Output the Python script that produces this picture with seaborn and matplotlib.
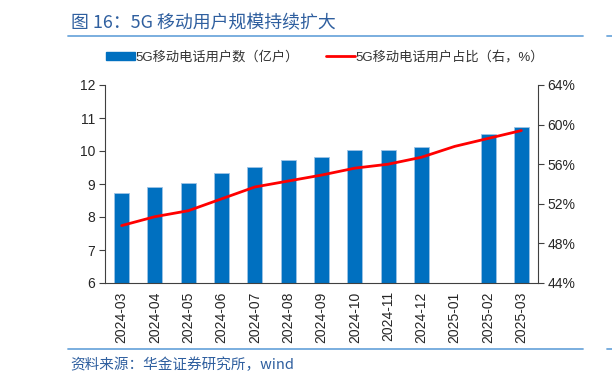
import numpy as np
import pandas as pd
import matplotlib
matplotlib.use("Agg")
import matplotlib.pyplot as plt
import seaborn as sns
from matplotlib.patches import Patch
from matplotlib.lines import Line2D

# Data
months = ["2024-03", "2024-04", "2024-05", "2024-06", "2024-07", "2024-08", "2024-09",
          "2024-10", "2024-11", "2024-12", "2025-01", "2025-02", "2025-03"]
users = [8.72, 8.92, 9.02, 9.33, 9.53, 9.73, 9.83, 10.02, 10.02, 10.13, np.nan, 10.52, 10.72]
share = [49.8, 50.7, 51.3, 52.5, 53.7, 54.3, 54.9, 55.6, 56.0, 56.7, 57.8, 58.6, 59.4]

bar_label = "5G移动电话用户数（亿户）"
line_label = "5G移动电话用户占比（右，%）"
title = "图 16：5G 移动用户规模持续扩大"
source = "资料来源：华金证券研究所，wind"

sns.set_style("white")
plt.rcParams["font.family"] = ["Liberation Sans", "Noto Sans CJK SC", "DejaVu Sans"]

df = pd.DataFrame({"month": months, "users": users, "share": share})

fig = plt.figure(figsize=(6.12, 3.85), dpi=100)
ax = fig.add_axes([105 / 612, 1 - 283 / 385, (538 - 105) / 612, (283 - 85) / 385])

sns.barplot(data=df, x="month", y="users", order=months, color="#0070C0",
            width=0.45, saturation=1, edgecolor="#9DC3E6", linewidth=0.6, ax=ax)
ax.set_ylim(6, 12)
ax.set_xlim(-0.5, len(months) - 0.5)
ax.set_xlabel("")
ax.set_ylabel("")
ax.set_yticks(range(6, 13))
ax.tick_params(axis="y", labelsize=10, length=4, width=0.8, direction="out", color="#404040", pad=3)
ax.set_xticks(np.arange(len(months)))
ax.set_xticklabels(months, rotation=90, fontsize=10)
ax.tick_params(axis="x", length=0, pad=6)
ax.set_xticks(np.arange(len(months) + 1) - 0.5, minor=True)
ax.tick_params(axis="x", which="minor", length=4, width=0.8, direction="inout", color="#404040")
for s in ["top", "right"]:
    ax.spines[s].set_visible(False)
for s in ["left", "bottom"]:
    ax.spines[s].set_color("#404040")
    ax.spines[s].set_linewidth(0.8)

ax2 = ax.twinx()
sns.lineplot(x=np.arange(len(months)), y=share, color="#FF0000", linewidth=2, ax=ax2)
ax2.set_ylim(44, 64)
ax2.set_yticks(range(44, 65, 4))
ax2.set_yticklabels([f"{v}%" for v in range(44, 65, 4)])
ax2.tick_params(axis="y", labelsize=10, length=4, width=0.8, direction="out", color="#404040", pad=3)
for s in ["top", "left", "bottom"]:
    ax2.spines[s].set_visible(False)
ax2.spines["right"].set_color("#404040")
ax2.spines["right"].set_linewidth(0.8)

handles = [Patch(facecolor="#0070C0", edgecolor="#0070C0"),
           Line2D([0], [0], color="#FF0000", linewidth=2)]
leg = fig.legend(handles, [bar_label, line_label], loc="center", bbox_to_anchor=(325 / 612, 1 - 57 / 385),
                 ncol=2, frameon=False, fontsize=9.5, handlelength=2.2, handleheight=0.55,
                 columnspacing=2.0, handletextpad=0.05)
for t in leg.get_texts():
    t.set_color("#333333")

# title, rules and source note
fig.text(71 / 612, 1 - 23 / 385, title, fontsize=12.9, color="#2F5F9F", va="center", ha="left",
         family=["Noto Sans CJK SC", "DejaVu Sans"])
fig.add_artist(Line2D([68 / 612, 583 / 612], [1 - 36 / 385] * 2, color="#6FA8DC", linewidth=1.3))
fig.add_artist(Line2D([607 / 612, 1.0], [1 - 36 / 385] * 2, color="#6FA8DC", linewidth=1.3))
fig.add_artist(Line2D([68 / 612, 583 / 612], [1 - 349 / 385] * 2, color="#6FA8DC", linewidth=1.3))
fig.add_artist(Line2D([607 / 612, 1.0], [1 - 349 / 385] * 2, color="#6FA8DC", linewidth=1.3))
fig.text(70 / 612, 1 - 365 / 385, source, fontsize=10.5, color="#2F5F9F", va="center", ha="left",
         style="italic", family=["Noto Sans CJK SC", "DejaVu Sans"])

fig.savefig("out.png", dpi=100)
